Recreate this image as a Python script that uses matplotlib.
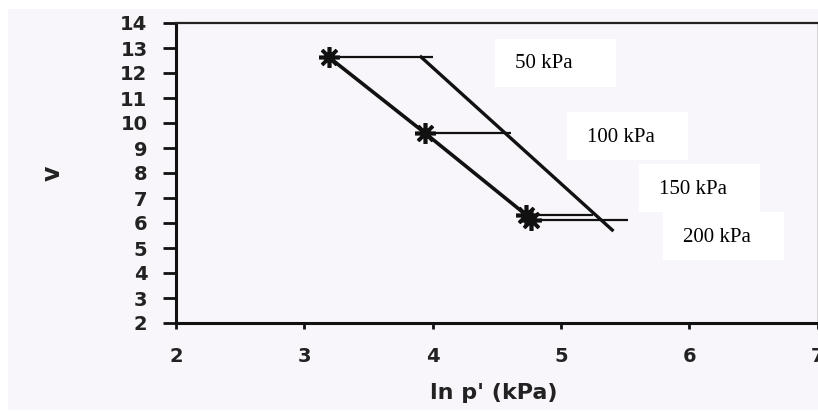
import matplotlib
matplotlib.use("Agg")
import matplotlib.pyplot as plt
from matplotlib.patches import Rectangle

# Stress paths in v - ln p' space
ncl_x = [3.19, 3.94, 4.73, 4.77]          # ln p' at the start of each path (NCL points)
ncl_y = [12.64, 9.60, 6.32, 6.12]         # specific volume v at those points
csl_x = [3.91, 5.40]                      # second (right) line
csl_y = [12.64, 5.72]
path_end_x = [4.00, 4.61, 5.25, 5.52]     # end of each horizontal path
path_labels = ["50 kPa", "100 kPa", "150 kPa", "200 kPa"]

x_ticks = [2, 3, 4, 5, 6, 7]
y_ticks = list(range(2, 15))

W, H = 818, 412
bg = "#f8f6fa"
ink = "#111111"

fig = plt.figure(figsize=(W / 100, H / 100), dpi=100, facecolor="white")
fig.patches.append(Rectangle((8 / W, 1 - 410 / H), 810 / W, 401 / H,
                             transform=fig.transFigure, facecolor=bg,
                             edgecolor="none", zorder=-10))

ax = fig.add_axes([176 / W, 1 - 323 / H, (817.5 - 176) / W, 300 / H])
ax.set_zorder(1)
ax.set_facecolor(bg)

# horizontal paths
for x0, y0, x1 in zip(ncl_x, ncl_y, path_end_x):
    ax.plot([x0, x1], [y0, y0], color=ink, lw=1.6, solid_capstyle="butt", zorder=2)

# the two inclined lines
ax.plot(ncl_x, ncl_y, color=ink, lw=2.6, zorder=3)
ax.plot(csl_x, csl_y, color=ink, lw=2.4, zorder=3)

# start points
ax.plot(ncl_x, ncl_y, linestyle="none", marker=(8, 2, 0), markersize=15,
        markeredgewidth=2.6, color=ink, zorder=4)
ax.plot(ncl_x, ncl_y, linestyle="none", marker="o", markersize=6,
        color=ink, zorder=4)

ax.set_xlim(2, 7)
ax.set_ylim(2, 14)
ax.set_xticks(x_ticks)
ax.set_yticks(y_ticks)

tick_font = dict(family="DejaVu Sans", weight="bold", size=14)
ax.set_xticklabels([str(t) for t in x_ticks], **tick_font, color="#222222")
ax.set_yticklabels([str(t) for t in y_ticks], **tick_font, color="#222222")
ax.tick_params(axis="y", direction="out", length=9.5, width=2, pad=11, color=ink)
ax.tick_params(axis="x", direction="out", length=4.5, width=2, pad=13, color=ink)

for side in ("left", "bottom"):
    ax.spines[side].set_linewidth(2.2)
    ax.spines[side].set_color(ink)
ax.spines["top"].set_linewidth(1.6)
ax.spines["top"].set_color("#222222")
ax.spines["right"].set_linewidth(1.0)
ax.spines["right"].set_color("#555555")

fig.text(494 / W, 1 - 393 / H, "ln p' (kPa)", ha="center", va="center",
         family="DejaVu Sans", weight="bold", size=16, color="#222222")
fig.text(53 / W, 1 - 173 / H, "v", ha="center", va="center", rotation=90,
         family="DejaVu Sans", weight="bold", size=17, color="#222222")

# label boxes for the confining pressures
boxes = [(495, 39), (567, 112), (639, 164), (663, 212)]
for (bx, by), lab in zip(boxes, path_labels):
    fig.patches.append(Rectangle((bx / W, 1 - (by + 48) / H), 121 / W, 48 / H,
                                 transform=fig.transFigure, facecolor="white",
                                 edgecolor="none", zorder=5))
    fig.text((bx + 20) / W, 1 - (by + 25) / H, lab, ha="left", va="center",
             family="Liberation Serif", size=15, color="black", zorder=6)

fig.savefig("out.png", dpi=100, facecolor="white")
